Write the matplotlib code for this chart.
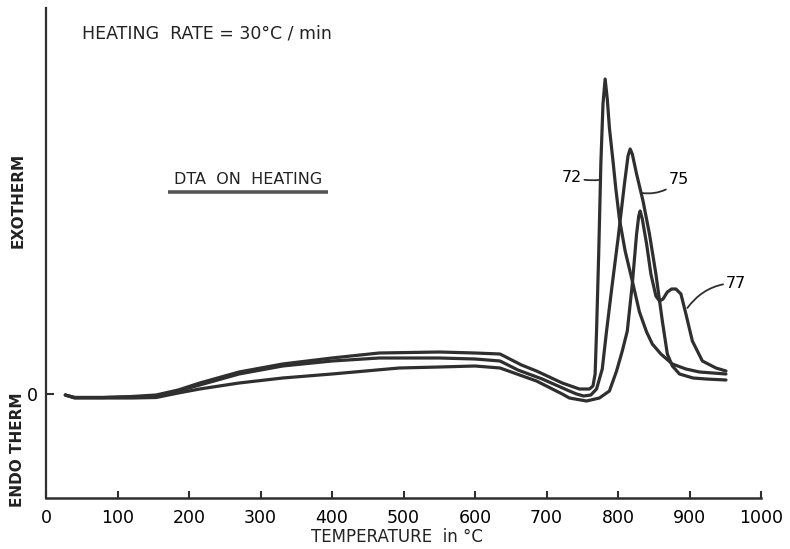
import matplotlib
matplotlib.use("Agg")
import matplotlib.pyplot as plt

# DTA curves (temperature in C, signal in arbitrary units, 0 = baseline)
t72 = [27, 40, 80, 120, 154, 185, 215, 270, 331, 400, 466, 550, 600, 635, 665, 686, 722, 746, 760,
       765, 768, 770, 773, 776, 779, 782, 785, 788, 793, 797, 802, 810, 820, 830, 840, 848, 860,
       876, 895, 914, 951]
v72 = [-0.1, -0.35, -0.35, -0.25, -0.1, 0.4, 1.1, 2.2, 3.0, 3.6, 4.1, 4.2, 4.1, 4.0, 2.9, 2.3, 1.1,
       0.5, 0.5, 0.8, 2.0, 6.3, 14.0, 23.0, 29.0, 31.5, 29.5, 26.6, 23.3, 20.5, 17.5, 14.3, 11.3,
       8.2, 6.2, 5.0, 4.0, 3.0, 2.5, 2.2, 2.0]

t75 = [27, 40, 80, 120, 154, 185, 215, 270, 331, 400, 466, 550, 600, 635, 660, 694, 732, 742, 752,
       762, 770, 778, 784, 792, 800, 809, 814, 817, 820, 826, 835, 844, 853, 862, 869, 876, 886,
       905, 923, 951]
v75 = [-0.1, -0.35, -0.35, -0.3, -0.2, 0.3, 0.9, 2.0, 2.8, 3.3, 3.6, 3.6, 3.5, 3.3, 2.4, 1.5, 0.3,
       0.0, -0.2, -0.1, 0.5, 2.5, 6.3, 11.0, 15.5, 21.0, 23.8, 24.5, 24.0, 22.0, 19.3, 16.0, 12.0,
       7.3, 4.0, 2.8, 2.0, 1.6, 1.5, 1.4]

t77 = [27, 40, 80, 120, 154, 185, 215, 270, 331, 400, 494, 550, 600, 635, 686, 722, 732, 756, 774,
       788, 798, 806, 813, 820, 826, 829, 831, 834, 840, 846, 853, 858, 863, 869, 875, 881, 888,
       895, 904, 918, 937, 951]
v77 = [-0.1, -0.4, -0.4, -0.4, -0.35, 0.1, 0.5, 1.1, 1.6, 2.0, 2.6, 2.7, 2.8, 2.6, 1.3, 0.0, -0.4,
       -0.7, -0.4, 0.3, 2.3, 4.3, 6.3, 11.0, 16.0, 17.8, 18.3, 17.5, 15.0, 12.0, 9.8, 9.3, 9.5,
       10.2, 10.5, 10.5, 10.0, 8.0, 5.3, 3.3, 2.6, 2.3]

x_ticks = [0, 100, 200, 300, 400, 500, 600, 700, 800, 900, 1000]
x_labels = ["0", "100", "200", "300", "400", "500", "600", "700", "800", "900", "1000"]

ink = "#2f2f2f"
plt.rcParams["font.family"] = ["DejaVu Sans"]

fig = plt.figure(figsize=(7.9, 5.49), dpi=100)
ax = fig.add_axes([46 / 790, 1 - 498 / 549, 715 / 790, 490 / 549])

for t, v in [(t72, v72), (t75, v75), (t77, v77)]:
    ax.plot(t, v, color=ink, lw=2.3, solid_capstyle="round", solid_joinstyle="round")

ax.set_xlim(0, 1000)
ax.set_ylim(-10.4, 38.6)

for s in ["top", "right"]:
    ax.spines[s].set_visible(False)
ax.spines["left"].set_linewidth(1.6)
ax.spines["bottom"].set_linewidth(1.8)
ax.spines["left"].set_color(ink)
ax.spines["bottom"].set_color(ink)

ax.set_xticks(x_ticks)
ax.set_xticklabels(x_labels)
ax.set_yticks([0])
ax.set_yticklabels(["0"])
ax.tick_params(axis="x", direction="in", length=5, width=1.5, color=ink, pad=8, labelsize=12.5)
ax.tick_params(axis="y", direction="in", length=6, width=1.5, color=ink, pad=6, labelsize=12.5)

fig.text(397 / 790, 1 - 537 / 549, "TEMPERATURE  in °C", fontsize=12, ha="center", va="center",
         color="#222222")

fig.text(18 / 790, 1 - 200 / 549, "EXOTHERM", rotation=90, ha="center", va="center",
         fontsize=11, fontweight="bold", color="#222222")
fig.text(18 / 790, 1 - 450 / 549, "ENDO THERM", rotation=90, ha="center", va="center",
         fontsize=11, fontweight="bold", color="#222222")

ax.text(50, 36.0, "HEATING  RATE = 30°C / min", fontsize=12.5, ha="left", va="center", color="#222222")
ax.text(283, 21.4, "DTA  ON  HEATING", fontsize=11.5, ha="center", va="center", color="#222222")
ax.plot([170, 395], [20.2, 20.2], color="#555555", lw=2.6, solid_capstyle="butt")

arrow = dict(arrowstyle="-", color=ink, lw=1.3, shrinkA=0, shrinkB=0)
ax.annotate("72", xy=(773, 21.4), xytext=(735, 21.7), fontsize=11.5, ha="center", va="center",
            arrowprops=dict(arrow, connectionstyle="arc3,rad=0.1"))
ax.annotate("75", xy=(833, 20.1), xytext=(885, 21.4), fontsize=11.5, ha="center", va="center",
            arrowprops=dict(arrow, connectionstyle="arc3,rad=-0.25"))
ax.annotate("77", xy=(897, 8.6), xytext=(965, 11.1), fontsize=11.5, ha="center", va="center",
            arrowprops=dict(arrow, connectionstyle="arc3,rad=0.25"))

fig.savefig("out.png", dpi=100)
